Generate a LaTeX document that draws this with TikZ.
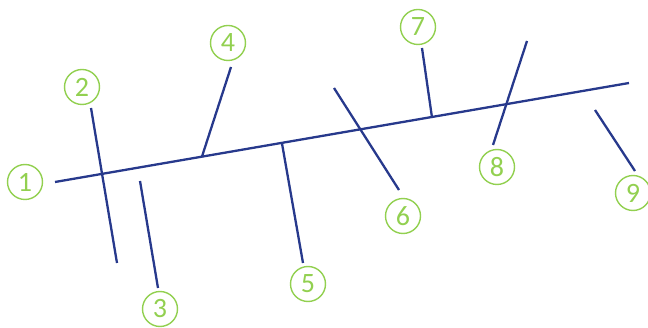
\documentclass[tikz,border=0pt]{standalone}
\usepackage{fontspec}
\setmainfont{Carlito}
\definecolor{lineblue}{HTML}{27398C}
\definecolor{numgreen}{HTML}{92D050}
\begin{document}
\begin{tikzpicture}[x=1pt,y=-1pt,
  numcirc/.style={circle,draw=numgreen,line width=1.4pt,text=numgreen,minimum size=35pt,inner sep=0pt,font=\fontsize{28}{28}\selectfont},
  bar/.style={draw=lineblue,line width=2.3pt}]
\useasboundingbox (0,0) rectangle (648,328);
% main line
\coordinate (m0) at (55,182);
\coordinate (m1) at (629,83);
\draw[bar] (m0) -- (m1);
% branch end points
\coordinate (a2) at (91,108);  \coordinate (b2) at (117,263);
\coordinate (a3) at (140,181); \coordinate (b3) at (158,288);
\coordinate (a4) at (231,67);  \coordinate (b4) at (202,156.5);
\coordinate (a5) at (282,143.5); \coordinate (b5) at (303,263);
\coordinate (a6) at (334,88);  \coordinate (b6) at (399,190);
\coordinate (a7) at (422,48);  \coordinate (b7) at (432,117.5);
\coordinate (a8) at (527,41);  \coordinate (b8) at (493,145);
\coordinate (a9) at (595,110); \coordinate (b9) at (635,171);
\foreach \i in {2,...,9} { \draw[bar] (a\i) -- (b\i); }
% numbers
\node[numcirc] (n1) at (25,182) {1};
\node[numcirc] (n2) at (82,87) {2};
\node[numcirc] (n3) at (160,309) {3};
\node[numcirc] (n4) at (228,43) {4};
\node[numcirc] (n5) at (308,284) {5};
\node[numcirc] (n6) at (403,216) {6};
\node[numcirc] (n7) at (418,27) {7};
\node[numcirc] (n8) at (497,167) {8};
\node[numcirc] (n9) at (633,193) {9};
\end{tikzpicture}
\end{document}
